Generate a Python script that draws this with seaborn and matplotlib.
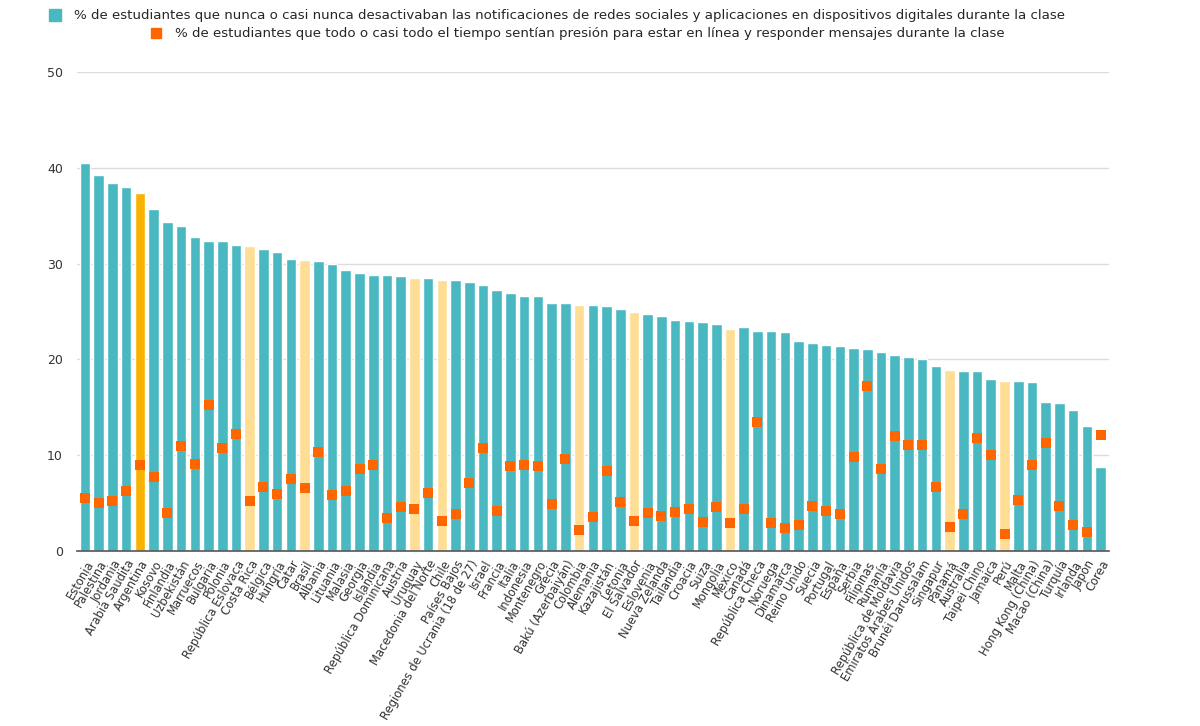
import numpy as np
import seaborn as sns
import matplotlib.pyplot as plt
from matplotlib.lines import Line2D

##############################################################################
# Data
##############################################################################
countries = [
    "Estonia", "Palestina", "Jordania", "Arabia Saudita", "Argentina",
    "Kosovo", "Finlandia", "Uzbekistán", "Marruecos", "Bulgaria",
    "Polonia", "República Eslovaca", "Costa Rica", "Bélgica", "Hungría",
    "Catar", "Brasil", "Albania", "Lituania", "Malasia",
    "Georgia", "Islandia", "República Dominicana", "Austria", "Uruguay",
    "Macedonia del Norte", "Chile", "Países Bajos",
    "Regiones de Ucrania (18 de 27)", "Israel",
    "Francia", "Italia", "Indonesia", "Montenegro", "Grecia",
    "Bakú (Azerbaiyán)", "Colombia", "Alemania", "Kazajistán", "Letonia",
    "El Salvador", "Eslovenia", "Nueva Zelanda", "Tailandia", "Croacia",
    "Suiza", "Mongolia", "México", "Canadá", "República Checa",
    "Noruega", "Dinamarca", "Reino Unido", "Suecia", "Portugal",
    "España", "Serbia", "Filipinas", "Rumanía", "República de Moldavia",
    "Emiratos Árabes Unidos", "Brunéi Darussalam", "Singapur", "Panamá",
    "Australia", "Taipei Chino", "Jamaica", "Perú", "Malta",
    "Hong Kong (China)", "Macao (China)", "Turquía", "Irlanda", "Japón",
    "Corea",
]
never_disable = [
    40.5, 39.2, 38.4, 38.0, 37.4, 35.7, 34.3, 33.9, 32.8, 32.3,
    32.3, 31.9, 31.8, 31.5, 31.2, 30.5, 30.4, 30.3, 29.9, 29.3,
    29.0, 28.8, 28.8, 28.7, 28.5, 28.5, 28.3, 28.3, 28.1, 27.8,
    27.2, 26.9, 26.6, 26.6, 25.9, 25.9, 25.7, 25.7, 25.6, 25.3,
    24.9, 24.7, 24.5, 24.1, 24.0, 23.9, 23.7, 23.2, 23.4, 23.0,
    23.0, 22.9, 21.9, 21.7, 21.5, 21.4, 21.2, 21.1, 20.8, 20.5,
    20.2, 20.0, 19.3, 18.9, 18.8, 18.8, 17.9, 17.7, 17.7, 17.6,
    15.5, 15.4, 14.7, 13.0, 8.8,
]
pressure = [
    5.5, 5.0, 5.2, 6.3, 9.0, 7.7, 4.0, 11.0, 9.1, 15.2,
    10.8, 12.2, 5.2, 6.7, 6.0, 7.5, 6.6, 10.3, 5.8, 6.3,
    8.6, 9.0, 3.4, 4.6, 4.4, 6.1, 3.1, 3.9, 7.1, 10.7,
    4.2, 8.9, 9.0, 8.9, 4.9, 9.6, 2.2, 3.5, 8.4, 5.1,
    3.1, 4.0, 3.7, 4.1, 4.4, 3.0, 4.6, 2.9, 4.4, 13.5,
    2.9, 2.4, 2.7, 4.7, 4.2, 3.9, 9.8, 17.2, 8.6, 12.0,
    11.1, 11.1, 6.7, 2.5, 3.9, 11.8, 10.0, 1.8, 5.3, 9.0,
    11.3, 4.7, 2.7, 2.0, 12.1,
]
highlight = "Argentina"
latam = ["Costa Rica", "Brasil", "Uruguay", "Chile", "Colombia",
         "El Salvador", "México", "Panamá", "Perú"]
legend_labels = [
    "% de estudiantes que nunca o casi nunca desactivaban las notificaciones "
    "de redes sociales y aplicaciones en dispositivos digitales durante la clase",
    "% de estudiantes que todo o casi todo el tiempo sentían presión para "
    "estar en línea y responder mensajes durante la clase",
]

##############################################################################
# Colours
##############################################################################
TEAL = "#4AB8C1"
GOLD = "#F9B200"
PALE = "#FEDE94"
ORANGE = "#FF6600"
palette = [GOLD if c == highlight else PALE if c in latam else TEAL
           for c in countries]

##############################################################################
# Plotting
##############################################################################
sns.set_style("white")
plt.rcParams["font.family"] = ["DejaVu Sans"]

fig = plt.figure(figsize=(12, 7.26), dpi=100)
ax = fig.add_axes([0.064, 0.241, 0.86, 0.66])

sns.barplot(x=countries, y=never_disable, hue=countries, palette=palette,
            legend=False, width=0.77, saturation=1, ax=ax, zorder=2)
sns.stripplot(x=countries, y=pressure, jitter=False, marker="s",
              color=ORANGE, size=6.8, linewidth=0, ax=ax, zorder=3)

ax.set_ylim(0, 50)
ax.set_xlim(-0.6, len(countries) - 0.4)
ax.set_yticks(range(0, 51, 10))
ax.yaxis.grid(True, color="#DDDDDD", linewidth=1)
ax.set_axisbelow(True)
for s in ["top", "right", "left"]:
    ax.spines[s].set_visible(False)
ax.spines["bottom"].set_color("#555555")
ax.spines["bottom"].set_linewidth(1.2)
ax.tick_params(axis="y", length=0, labelsize=9, labelcolor="#333333", pad=10)
ax.tick_params(axis="x", length=3, color="#CCCCCC", labelsize=8.3,
               labelcolor="#333333", pad=2)
plt.setp(ax.get_xticklabels(), rotation=60, ha="right",
         rotation_mode="anchor")
ax.set_xlabel("")
ax.set_ylabel("")

# two centred legend rows, one entry each
h1 = Line2D([], [], marker="s", color=TEAL, linestyle="none", markersize=9)
h2 = Line2D([], [], marker="s", color=ORANGE, linestyle="none", markersize=7)
fig.legend([h1], [legend_labels[0]], loc="upper center",
           bbox_to_anchor=(0.461, 1.0), frameon=False, fontsize=9.6,
           handletextpad=0.4, borderaxespad=0.3)
fig.legend([h2], [legend_labels[1]], loc="upper center",
           bbox_to_anchor=(0.478, 0.975), frameon=False, fontsize=9.6,
           handletextpad=0.4, borderaxespad=0.3)

plt.savefig("out.png", dpi=100)
plt.close()
